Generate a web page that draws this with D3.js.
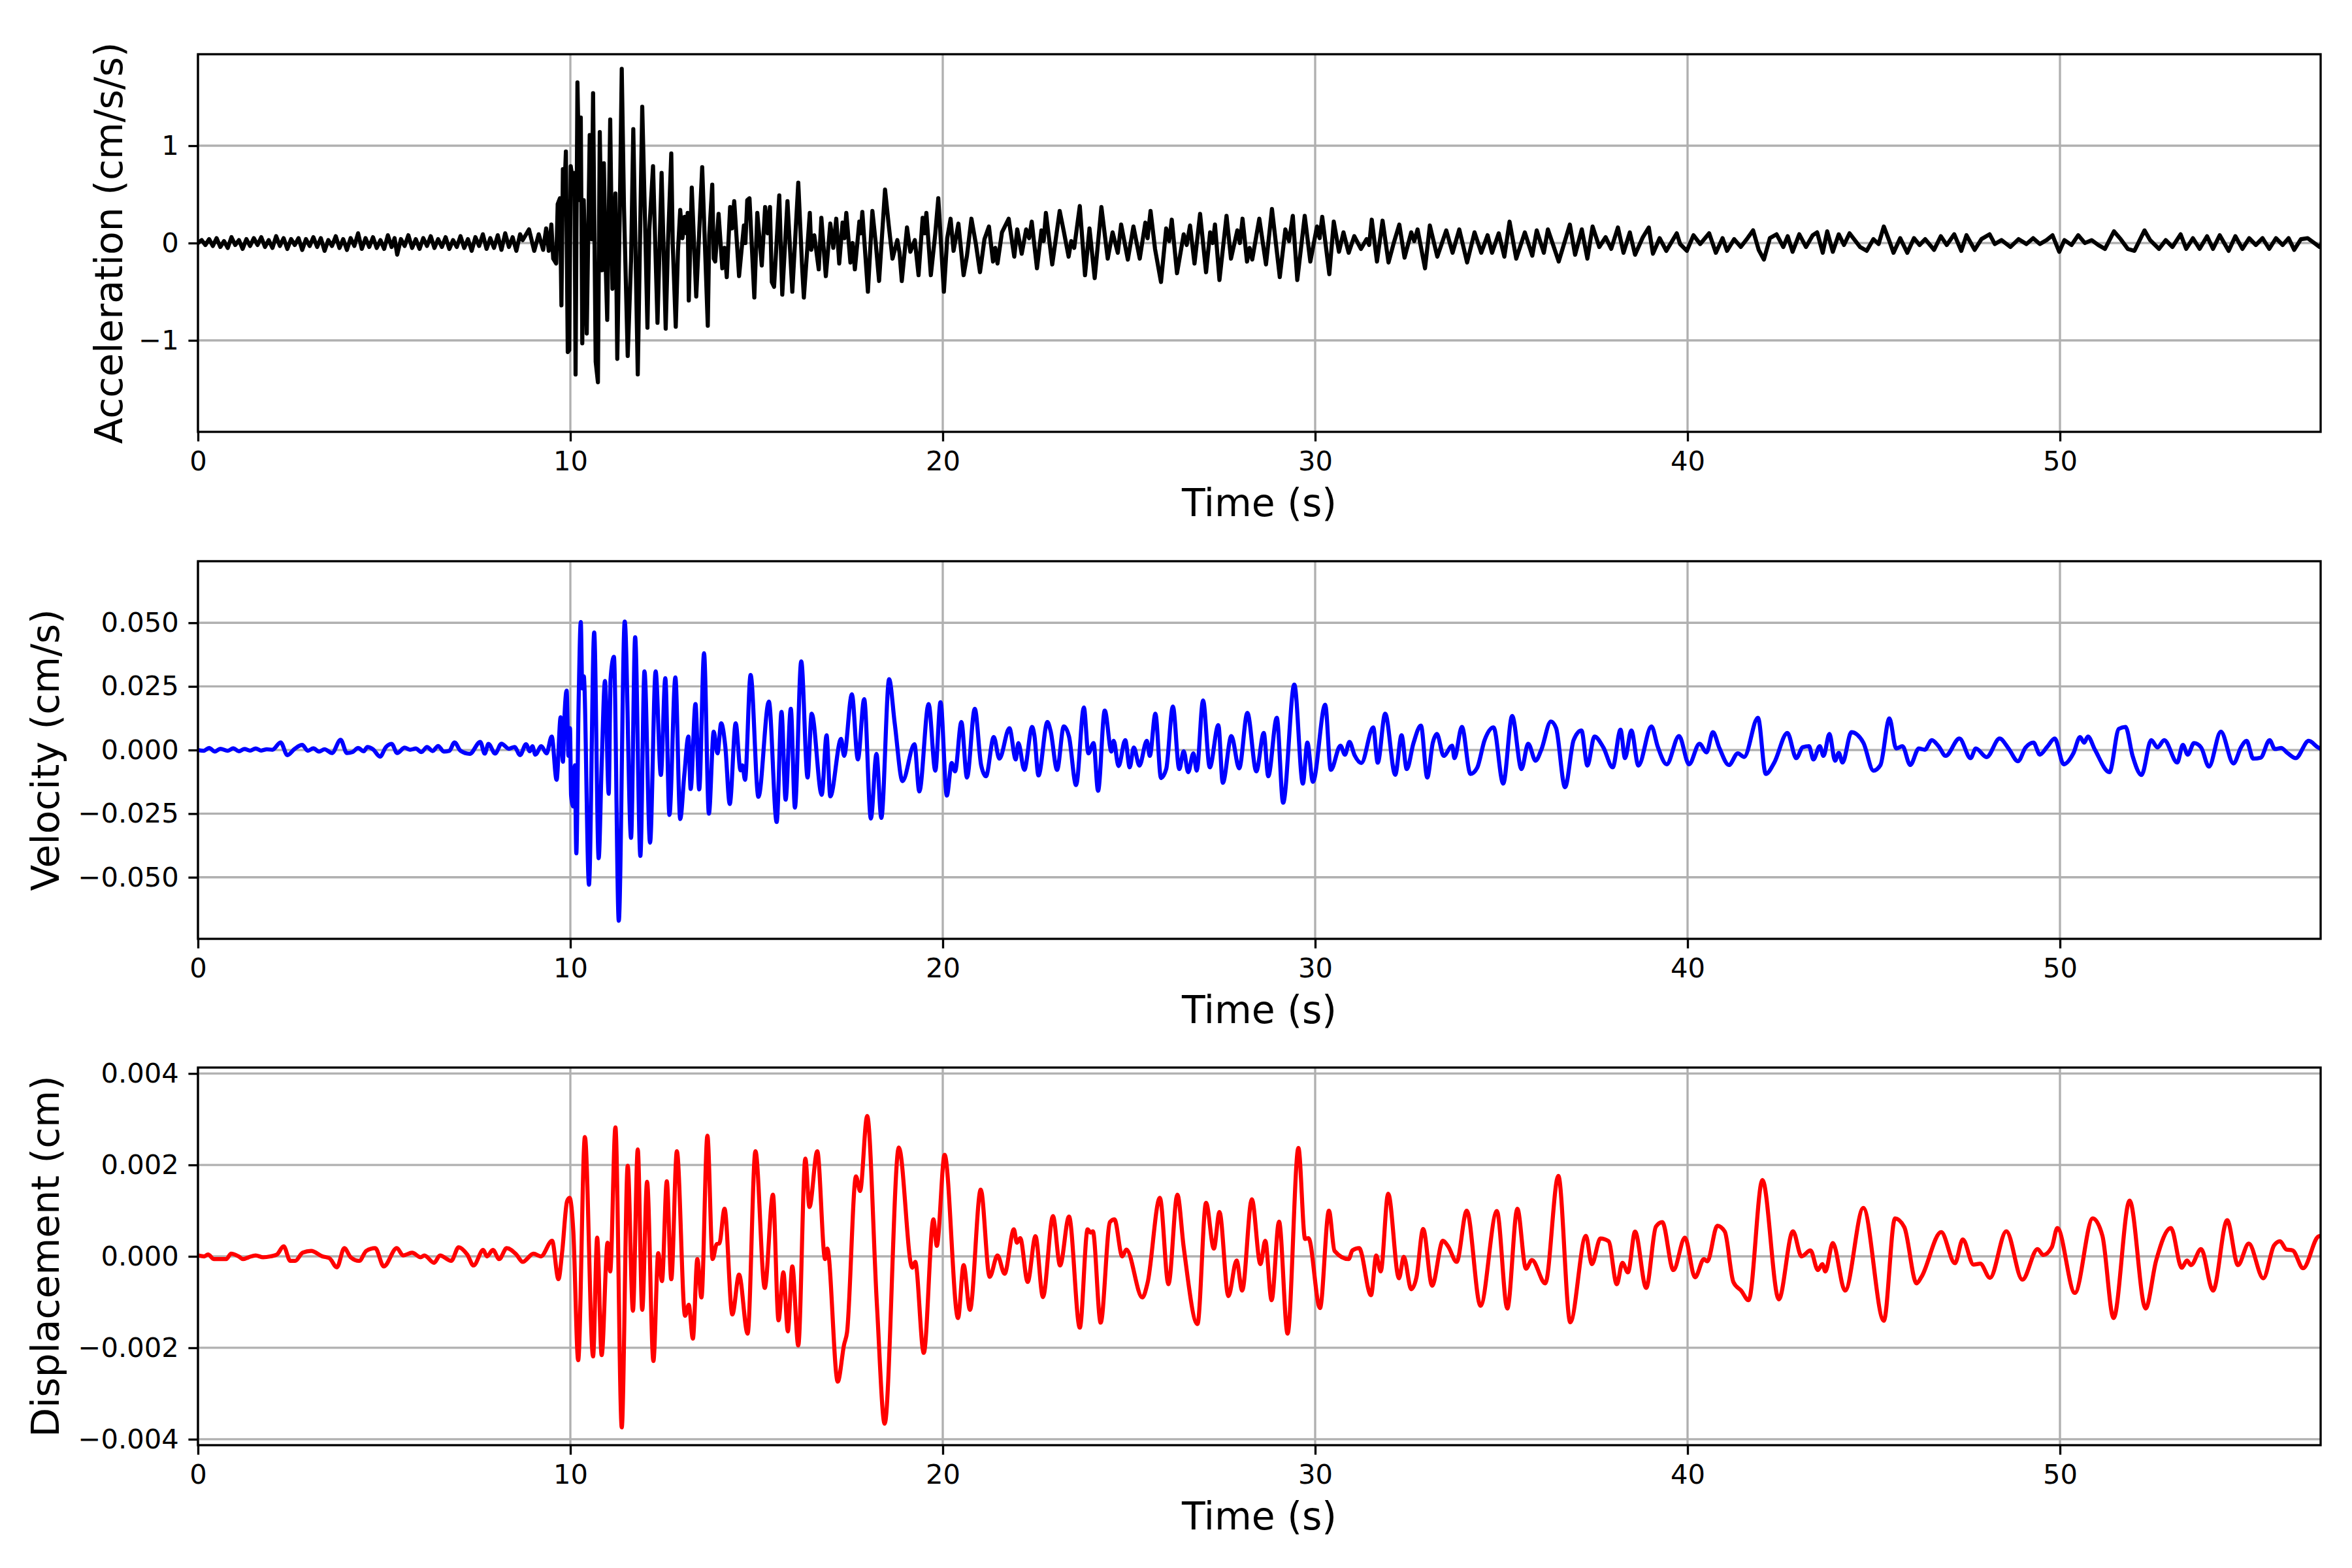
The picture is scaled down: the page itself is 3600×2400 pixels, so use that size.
<!DOCTYPE html>
<html>
<head>
<meta charset="utf-8">
<script src="https://cdn.jsdelivr.net/npm/d3@7"></script>
<style>
  body { margin: 0; background: #fff; }
</style>
</head>
<body>
<div id="output"></div>
<script>
// Tick values (same time axis for all panels)
const timeTicks = [0, 10, 20, 30, 40, 50];
const accTicks = [-1, 0, 1];
const velTicks = [-0.05, -0.025, 0, 0.025, 0.05];
const dispTicks = [-0.004, -0.002, 0, 0.002, 0.004];

// Ground motion: [time (s), value]
const accSeries = [
  [0,0],[0.1,0.03],[0.2,-0.02],[0.3,0.04],[0.4,-0.03],[0.5,0.05],[0.6,-0.04],[0.7,0.02],[0.8,-0.05],[0.9,0.06],
  [1.0,-0.02],[1.1,0.03],[1.2,-0.06],[1.3,0.04],[1.4,-0.03],[1.5,0.05],[1.6,-0.02],[1.7,0.06],[1.8,-0.04],[1.9,0.03],
  [2.0,-0.05],[2.1,0.07],[2.2,-0.03],[2.3,0.05],[2.4,-0.06],[2.5,0.04],[2.6,-0.02],[2.7,0.05],[2.8,-0.07],[2.9,0.04],
  [3.0,-0.03],[3.1,0.06],[3.2,-0.04],[3.3,0.05],[3.4,-0.08],[3.5,0.03],[3.6,-0.03],[3.7,0.07],[3.8,-0.05],[3.9,0.04],
  [4.0,-0.07],[4.1,0.05],[4.2,-0.03],[4.3,0.1],[4.4,-0.06],[4.5,0.05],[4.6,-0.04],[4.7,0.06],[4.8,-0.05],[4.9,0.03],
  [5.0,-0.06],[5.1,0.08],[5.2,-0.04],[5.28,0.05],[5.35,-0.12],[5.45,0.04],[5.55,-0.03],[5.65,0.08],[5.75,-0.05],[5.85,0.04],
  [5.95,-0.06],[6.05,0.05],[6.15,-0.03],[6.25,0.07],[6.35,-0.05],[6.45,0.04],[6.55,-0.04],[6.65,0.06],[6.75,-0.06],[6.85,0.03],
  [6.95,-0.04],[7.05,0.07],[7.15,-0.05],[7.25,0.04],[7.35,-0.08],[7.45,0.06],[7.55,-0.03],[7.65,0.09],[7.75,-0.06],[7.85,0.05],
  [7.95,-0.05],[8.05,0.08],[8.15,-0.07],[8.25,0.1],[8.35,-0.04],[8.45,0.06],[8.55,-0.08],[8.65,0.09],[8.72,0.03],[8.89,0.14],
  [9.03,-0.08],[9.15,0.09],[9.27,-0.07],[9.35,0.15],[9.42,-0.08],[9.49,0.19],[9.54,-0.16],[9.62,-0.21],[9.66,0.4],[9.72,0.46],
  [9.76,-0.64],[9.8,0.76],[9.83,0.42],[9.88,0.94],[9.93,-1.12],[9.97,-1.1],[10.01,0.79],[10.05,0.68],[10.11,0.72],[10.14,-1.35],
  [10.19,1.65],[10.25,0.44],[10.28,1.29],[10.32,-1.03],[10.36,0.44],[10.44,-0.93],[10.52,1.11],[10.57,0.04],[10.61,1.54],[10.68,-1.22],
  [10.74,-1.43],[10.79,1.14],[10.85,-0.28],[10.9,0.82],[10.95,-0.25],[10.99,-0.79],[11.07,1.27],[11.13,-0.47],[11.21,0.51],[11.26,-1.19],
  [11.33,0.39],[11.38,1.79],[11.44,0.37],[11.54,-1.16],[11.63,-0.18],[11.69,1.17],[11.81,-1.35],[11.93,1.4],[12.01,0.15],[12.07,-0.87],
  [12.12,0.13],[12.22,0.79],[12.34,-0.82],[12.45,0.72],[12.56,-0.88],[12.62,-0.02],[12.71,0.92],[12.75,-0.02],[12.83,-0.86],[12.89,-0.08],
  [12.95,0.34],[13.01,0.05],[13.07,0.27],[13.12,0.1],[13.15,0.31],[13.18,-0.59],[13.26,0.57],[13.38,-0.55],[13.54,0.78],[13.69,-0.85],
  [13.73,0.08],[13.81,0.6],[13.85,-0.16],[13.89,-0.19],[13.98,0.3],[14.08,-0.26],[14.14,-0.05],[14.2,-0.35],[14.29,0.37],[14.34,0.15],
  [14.4,0.43],[14.53,-0.34],[14.66,0.18],[14.7,0.0],[14.75,0.44],[14.81,0.46],[14.94,-0.56],[15.02,0.31],[15.14,-0.23],[15.23,0.37],
  [15.3,0.1],[15.36,0.37],[15.41,-0.4],[15.47,-0.45],[15.61,0.49],[15.69,-0.53],[15.83,0.43],[15.96,-0.5],[16.12,0.62],[16.22,-0.22],
  [16.27,-0.56],[16.43,0.31],[16.47,-0.07],[16.55,0.08],[16.67,-0.27],[16.74,0.26],[16.86,-0.34],[16.98,0.2],[17.06,-0.05],[17.14,0.25],
  [17.22,-0.21],[17.31,0.21],[17.36,0.05],[17.41,0.31],[17.52,-0.2],[17.58,0.0],[17.64,-0.27],[17.76,0.22],[17.8,0.1],[17.84,0.32],
  [17.99,-0.5],[18.11,0.33],[18.2,0.0],[18.29,-0.39],[18.45,0.55],[18.55,0.18],[18.65,-0.16],[18.78,0.03],[18.84,-0.1],[18.9,-0.39],
  [19.04,0.16],[19.13,-0.09],[19.25,0.03],[19.35,-0.33],[19.46,0.26],[19.51,0.1],[19.56,0.31],[19.68,-0.33],[19.8,0.1],[19.88,0.46],
  [20.03,-0.5],[20.12,0.05],[20.21,0.25],[20.29,-0.08],[20.42,0.2],[20.56,-0.33],[20.65,-0.13],[20.77,0.25],[20.89,-0.01],[21.0,-0.3],
  [21.12,0.04],[21.24,0.17],[21.35,-0.19],[21.41,-0.05],[21.47,-0.21],[21.59,0.11],[21.77,0.25],[21.92,-0.14],[22.0,0.14],[22.12,-0.11],
  [22.24,0.14],[22.32,0.05],[22.39,0.22],[22.53,-0.26],[22.65,0.13],[22.71,0.02],[22.77,0.31],[22.94,-0.22],[23.14,0.33],[23.25,0.12],
  [23.38,-0.14],[23.45,0.02],[23.53,-0.05],[23.68,0.38],[23.82,-0.33],[23.94,0.15],[24.08,-0.36],[24.26,0.37],[24.43,-0.16],[24.56,0.11],
  [24.7,-0.1],[24.79,0.19],[24.97,-0.17],[25.12,0.17],[25.29,-0.16],[25.44,0.21],[25.5,0.05],[25.58,0.33],[25.7,-0.06],[25.86,-0.4],
  [26.0,0.15],[26.08,0.02],[26.15,0.24],[26.29,-0.31],[26.47,0.09],[26.55,-0.02],[26.64,0.18],[26.76,-0.21],[26.91,0.3],[27.07,-0.3],
  [27.18,0.11],[27.25,0.0],[27.31,0.19],[27.43,-0.38],[27.62,0.28],[27.74,-0.16],[27.91,0.13],[27.98,0.0],[28.05,0.25],[28.17,-0.19],
  [28.24,-0.05],[28.31,-0.17],[28.5,0.25],[28.68,-0.22],[28.84,0.35],[29.05,-0.35],[29.2,0.14],[29.3,0.02],[29.4,0.28],[29.52,-0.38],
  [29.72,0.28],[29.87,-0.19],[30.05,0.17],[30.12,0.05],[30.19,0.27],[30.38,-0.32],[30.5,0.22],[30.64,-0.09],[30.76,0.11],[30.9,-0.1],
  [31.05,0.07],[31.23,-0.06],[31.38,0.04],[31.45,-0.02],[31.52,0.24],[31.66,-0.19],[31.81,0.23],[31.97,-0.2],[32.11,0.0],[32.26,0.19],
  [32.4,-0.15],[32.58,0.11],[32.66,0.02],[32.75,0.14],[32.95,-0.26],[33.08,0.18],[33.28,-0.14],[33.52,0.13],[33.69,-0.1],[33.87,0.14],
  [34.08,-0.2],[34.28,0.11],[34.46,-0.1],[34.63,0.08],[34.75,-0.1],[34.93,0.1],[35.08,-0.14],[35.22,0.22],[35.4,-0.16],[35.63,0.11],
  [35.83,-0.13],[35.95,0.13],[36.14,-0.1],[36.25,0.14],[36.54,-0.19],[36.84,0.19],[36.98,-0.12],[37.16,0.14],[37.31,-0.16],[37.45,0.17],
  [37.63,-0.04],[37.8,0.06],[37.95,-0.06],[38.13,0.16],[38.28,-0.1],[38.45,0.11],[38.59,-0.12],[38.8,0.06],[38.96,0.16],[39.07,-0.11],
  [39.25,0.05],[39.43,-0.08],[39.71,0.1],[39.8,-0.01],[39.98,-0.08],[40.16,0.08],[40.34,-0.01],[40.58,0.1],[40.76,-0.1],[40.94,0.05],
  [41.06,-0.08],[41.25,0.04],[41.43,-0.04],[41.61,0.05],[41.76,0.13],[41.91,-0.07],[42.05,-0.17],[42.21,0.05],[42.39,0.09],[42.57,-0.04],
  [42.69,0.07],[42.82,-0.09],[43.0,0.09],[43.18,-0.04],[43.36,0.08],[43.48,0.11],[43.63,-0.1],[43.75,0.12],[43.9,-0.09],[44.06,0.09],
  [44.2,-0.02],[44.35,0.1],[44.63,-0.04],[44.81,-0.08],[44.99,0.04],[45.13,-0.01],[45.27,0.17],[45.41,0.03],[45.53,-0.1],[45.71,0.05],
  [45.9,-0.1],[46.08,0.05],[46.23,-0.02],[46.38,0.04],[46.62,-0.07],[46.8,0.07],[46.96,-0.02],[47.16,0.09],[47.35,-0.08],[47.49,0.08],
  [47.71,-0.07],[47.89,0.04],[48.11,0.09],[48.25,-0.01],[48.43,0.03],[48.67,-0.04],[48.89,0.04],[49.1,-0.01],[49.28,0.05],[49.46,-0.01],
  [49.64,0.03],[49.8,0.08],[49.98,-0.09],[50.12,0.03],[50.31,-0.02],[50.49,0.08],[50.67,0.0],[50.85,0.03],[51.03,-0.02],[51.21,-0.06],
  [51.45,0.12],[51.63,0.04],[51.82,-0.06],[52.0,-0.08],[52.27,0.13],[52.42,0.03],[52.66,-0.06],[52.84,0.03],[53.02,-0.04],[53.24,0.09],
  [53.39,-0.06],[53.57,0.05],[53.75,-0.06],[53.95,0.07],[54.11,-0.06],[54.29,0.08],[54.53,-0.08],[54.71,0.07],[54.9,-0.06],[55.08,0.05],
  [55.26,-0.02],[55.44,0.05],[55.62,-0.06],[55.8,0.05],[55.98,-0.02],[56.14,0.05],[56.29,-0.07],[56.47,0.04],[56.65,0.05],[56.83,0.0],
  [56.97,-0.04],[57.0,-0.02]
];

const velSeries = [
  [0,0],[0.15,-0.0003],[0.3,0.0008],[0.45,-0.0006],[0.6,0.0005],[0.8,-0.0003],[0.95,0.0007],[1.1,-0.0005],[1.25,0.0004],[1.4,-0.0002],
  [1.55,0.0006],[1.7,-0.0002],[1.85,0.0003],[2.0,0.0001],[2.22,0.003],[2.4,-0.002],[2.6,0.0005],[2.8,0.002],[2.95,-0.0003],[3.1,0.0007],
  [3.25,-0.0006],[3.4,0.0003],[3.6,-0.0012],[3.83,0.004],[4.0,-0.0012],[4.15,-0.0008],[4.3,0.0008],[4.45,-0.0005],[4.55,0.0012],[4.7,0.0003],
  [4.89,-0.0026],[5.05,0.0012],[5.2,0.0024],[5.35,-0.0012],[5.55,0.0009],[5.7,0.0001],[5.85,0.0006],[6.0,-0.0008],[6.15,0.0012],[6.3,-0.0004],
  [6.45,0.0016],[6.6,-0.0006],[6.75,-0.0003],[6.89,0.003],[7.05,-0.0003],[7.3,-0.0015],[7.58,0.0032],[7.7,-0.0014],[7.8,0.0024],[7.98,-0.0014],
  [8.15,0.0025],[8.35,0.0005],[8.5,0.0012],[8.65,-0.002],[8.81,0.0023],[8.91,-0.0005],[8.98,0.0015],[9.06,-0.0018],[9.22,0.0015],[9.36,-0.0013],
  [9.5,0.0053],[9.63,-0.0117],[9.74,0.0129],[9.8,-0.0046],[9.84,0.0124],[9.9,0.0233],[9.95,-0.0023],[9.99,0.0086],[10.02,-0.0179],[10.08,-0.0222],
  [10.12,-0.006],[10.16,-0.0406],[10.22,0.0171],[10.28,0.0503],[10.32,0.0242],[10.36,0.029],[10.5,-0.0529],[10.64,0.0462],[10.76,-0.0425],[10.84,-0.0061],
  [10.93,0.0271],[11.03,-0.0172],[11.08,0.028],[11.17,0.0366],[11.3,-0.0671],[11.46,0.0505],[11.63,-0.0345],[11.74,0.0443],[11.88,-0.0416],[11.99,0.0309],
  [12.14,-0.0364],[12.29,0.0309],[12.43,-0.0098],[12.55,0.0282],[12.66,-0.0255],[12.82,0.0285],[12.95,-0.0271],[13.06,-0.0098],[13.17,0.0053],[13.23,-0.0153],
  [13.36,0.0181],[13.46,-0.0155],[13.59,0.038],[13.72,-0.025],[13.85,0.0072],[13.95,-0.0013],[14.05,0.0105],[14.16,0.0015],[14.28,-0.0212],[14.44,0.0105],
  [14.57,-0.008],[14.62,-0.006],[14.69,-0.0117],[14.84,0.0295],[15.05,-0.0184],[15.33,0.019],[15.54,-0.0283],[15.67,0.015],[15.78,-0.0195],[15.92,0.0162],
  [16.03,-0.0226],[16.2,0.0348],[16.37,-0.0108],[16.48,0.0143],[16.75,-0.0176],[16.88,0.0058],[16.98,-0.0182],[17.27,0.0044],[17.35,-0.0023],[17.56,0.0219],
  [17.72,-0.0037],[17.89,0.02],[18.07,-0.0269],[18.22,-0.0015],[18.35,-0.0267],[18.56,0.0278],[18.71,0.0105],[18.92,-0.0122],[19.24,0.0023],[19.37,-0.0163],
  [19.62,0.0181],[19.8,-0.0081],[19.94,0.0188],[20.11,-0.0179],[20.24,-0.0051],[20.33,-0.0084],[20.5,0.011],[20.65,-0.0108],[20.86,0.0162],[21.03,-0.0059],
  [21.16,-0.0103],[21.37,0.0051],[21.52,-0.0034],[21.79,0.0086],[21.96,-0.0037],[22.03,0.0027],[22.19,-0.0078],[22.4,0.0091],[22.46,0.0058],[22.57,-0.01],
  [22.81,0.011],[22.9,0.0072],[23.07,-0.0078],[23.25,0.0093],[23.39,0.0053],[23.58,-0.0138],[23.79,0.0167],[23.91,-0.0013],[24.05,0.0027],[24.17,-0.016],
  [24.35,0.0155],[24.53,-0.0006],[24.59,0.0036],[24.72,-0.0063],[24.9,0.0039],[25.02,-0.0068],[25.13,0.001],[25.28,-0.0061],[25.48,0.0036],[25.56,-0.0023],
  [25.71,0.0143],[25.86,-0.011],[26.0,-0.0075],[26.18,0.0171],[26.35,-0.0075],[26.47,-0.0005],[26.59,-0.0087],[26.73,-0.0013],[26.82,-0.0081],[26.99,0.0195],
  [27.17,-0.0068],[27.4,0.0098],[27.52,-0.0129],[27.75,0.0055],[27.96,-0.0072],[28.18,0.0146],[28.42,-0.0084],[28.62,0.0067],[28.74,-0.0103],[28.97,0.0127],
  [29.14,-0.0207],[29.44,0.0257],[29.67,-0.0132],[29.79,0.0029],[29.94,-0.0125],[30.27,0.0178],[30.42,-0.0078],[30.68,0.0017],[30.8,-0.0018],[30.92,0.0032],
  [31.06,-0.0021],[31.24,-0.0051],[31.56,0.0089],[31.68,-0.005],[31.88,0.0143],[32.15,-0.0097],[32.32,0.0058],[32.46,-0.0075],[32.64,0.0027],[32.84,0.0096],
  [33.01,-0.0108],[33.16,0.0029],[33.27,0.0063],[33.45,-0.0023],[33.68,0.0017],[33.74,-0.0032],[33.94,0.0091],[34.17,-0.0094],[34.35,-0.007],[34.55,0.0039],
  [34.79,0.0089],[35.05,-0.0132],[35.29,0.0134],[35.54,-0.0075],[35.72,0.0025],[35.92,-0.0042],[36.07,0.0],[36.33,0.0112],[36.47,0.0086],[36.71,-0.0146],
  [36.94,0.0039],[37.15,0.0077],[37.31,-0.0061],[37.5,0.0053],[37.74,0.001],[37.99,-0.0068],[38.2,0.008],[38.32,-0.0032],[38.49,0.0077],[38.68,-0.0061],
  [39.03,0.0093],[39.2,0.0013],[39.44,-0.0056],[39.77,0.0055],[40.04,-0.0056],[40.32,0.0025],[40.51,-0.0009],[40.68,0.007],[40.86,0.0006],[41.11,-0.0059],
  [41.35,-0.0013],[41.52,-0.0027],[41.89,0.0127],[42.1,-0.0094],[42.33,-0.0049],[42.68,0.0067],[42.92,-0.0032],[43.09,0.0011],[43.26,0.0015],[43.38,-0.0037],
  [43.55,0.0015],[43.65,-0.0023],[43.81,0.0063],[43.96,-0.0042],[44.06,-0.0011],[44.16,-0.0049],[44.4,0.007],[44.72,0.0029],[44.99,-0.0081],[45.18,-0.0059],
  [45.42,0.0124],[45.6,0.0006],[45.77,0.0015],[45.98,-0.0059],[46.21,0.0006],[46.37,0.0001],[46.56,0.0039],[46.74,0.0015],[46.93,-0.0023],[47.3,0.0045],
  [47.6,-0.0032],[47.74,0.0006],[48.03,-0.0028],[48.38,0.0045],[48.62,0.0006],[48.87,-0.0044],[49.08,0.001],[49.29,0.0029],[49.46,-0.0018],[49.66,0.0013],
  [49.86,0.0045],[50.1,-0.0056],[50.36,-0.0013],[50.54,0.0051],[50.65,0.0029],[50.75,0.0053],[50.94,0.0001],[51.33,-0.0087],[51.58,0.0083],[51.76,0.0091],
  [51.95,-0.0023],[52.19,-0.0098],[52.45,0.0039],[52.62,0.001],[52.8,0.0039],[53.15,-0.0049],[53.3,0.002],[53.43,-0.0018],[53.6,0.0027],[53.79,0.001],
  [54.0,-0.0065],[54.32,0.0072],[54.66,-0.0053],[54.86,0.001],[55.01,0.0036],[55.19,-0.0034],[55.39,-0.003],[55.63,0.0039],[55.77,0.0004],[55.94,0.0008],
  [56.12,-0.0013],[56.33,-0.0032],[56.68,0.0036],[56.93,0.001],[57.0,0.0005]
];

const dispSeries = [
  [0,0.00002],[0.17,0.0],[0.27,0.00004],[0.43,-0.00006],[0.76,-0.00006],[0.89,0.00006],[1.09,0.0],[1.21,-0.00006],[1.36,-0.00002],[1.55,0.00002],
  [1.75,-0.00002],[1.95,0.0],[2.12,0.00004],[2.3,0.00022],[2.48,-0.0001],[2.61,-0.0001],[2.81,0.00008],[3.04,0.00012],[3.34,0.0],[3.53,-0.00004],
  [3.73,-0.00024],[3.93,0.00018],[4.1,-0.00002],[4.33,-0.0001],[4.52,0.00012],[4.76,0.00018],[4.99,-0.00022],[5.34,0.00018],[5.51,0.00002],[5.75,0.00008],
  [5.98,-0.00002],[6.08,0.00002],[6.34,-0.00014],[6.5,0.00002],[6.8,-0.0001],[7.0,0.0002],[7.23,0.00004],[7.4,-0.0002],[7.66,0.00014],[7.76,0.0],
  [7.92,0.00014],[8.09,-0.00006],[8.29,0.00018],[8.55,0.00004],[8.72,-0.00012],[9.01,0.00006],[9.21,0.0],[9.51,0.00034],[9.68,-0.0005],[9.78,0.0001],
  [9.91,0.0012],[9.98,0.00128],[10.08,0.00054],[10.21,-0.00227],[10.39,0.00261],[10.61,-0.00219],[10.72,0.00041],[10.84,-0.00216],[11.0,0.0003],[11.07,-0.00033],
  [11.21,0.00282],[11.38,-0.00374],[11.54,0.00198],[11.68,-0.00119],[11.81,0.00234],[11.93,-0.00117],[12.06,0.00163],[12.23,-0.00229],[12.36,0.00007],[12.46,-0.00054],
  [12.59,0.00164],[12.71,-0.0005],[12.86,0.0023],[13.08,-0.0013],[13.18,-0.00106],[13.29,-0.0018],[13.41,-0.00006],[13.52,-0.0009],[13.68,0.00264],[13.82,-0.00006],
  [13.93,0.00027],[14.0,0.00028],[14.14,0.00104],[14.35,-0.00127],[14.53,-0.0004],[14.76,-0.00169],[14.97,0.0023],[15.22,-0.00069],[15.44,0.00135],[15.59,-0.0014],
  [15.72,-0.00035],[15.84,-0.00164],[15.96,-0.00022],[16.12,-0.00195],[16.31,0.00214],[16.42,0.00108],[16.63,0.0023],[16.84,-0.00006],[16.9,0.00017],[17.18,-0.00274],
  [17.35,-0.00193],[17.43,-0.00166],[17.67,0.00175],[17.78,0.00143],[17.97,0.00307],[18.23,-0.00103],[18.44,-0.00366],[18.82,0.00238],[19.18,-0.00025],[19.26,-0.00012],
  [19.49,-0.00211],[19.75,0.00081],[19.84,0.00023],[20.05,0.00222],[20.41,-0.00135],[20.56,-0.00019],[20.73,-0.00117],[21.02,0.00146],[21.26,-0.00045],[21.47,0.00002],
  [21.66,-0.00038],[21.91,0.00059],[21.99,0.0003],[22.08,0.0004],[22.28,-0.00056],[22.49,0.00044],[22.69,-0.00089],[22.96,0.00088],[23.15,-0.0002],[23.39,0.00087],
  [23.68,-0.00156],[23.89,0.00059],[23.97,0.00052],[24.03,0.00055],[24.24,-0.00145],[24.49,0.00075],[24.61,0.00081],[24.82,0.0],[24.93,0.00015],[25.36,-0.0009],
  [25.5,-0.00058],[25.83,0.00128],[26.06,-0.00061],[26.3,0.00135],[26.47,0.0002],[26.84,-0.00148],[27.07,0.00117],[27.28,0.00017],[27.43,0.00097],[27.67,-0.00087],
  [27.89,-0.00009],[28.04,-0.00075],[28.3,0.00125],[28.53,-0.00017],[28.66,0.00034],[28.83,-0.00096],[29.03,0.00076],[29.26,-0.00169],[29.55,0.00237],[29.73,0.00038],
  [29.82,0.0004],[30.13,-0.00113],[30.37,0.001],[30.52,0.00012],[30.9,-0.00006],[31.0,0.00013],[31.18,0.00018],[31.5,-0.00085],[31.64,0.00002],[31.76,-0.00033],
  [31.96,0.00137],[32.25,-0.00048],[32.38,-0.00001],[32.58,-0.00072],[32.72,-0.00046],[32.9,0.0006],[33.14,-0.00064],[33.43,0.00034],[33.57,0.00022],[33.8,-0.00012],
  [34.07,0.001],[34.44,-0.00108],[34.88,0.00099],[35.16,-0.00114],[35.43,0.00104],[35.66,-0.00027],[35.82,-0.00008],[36.18,-0.00059],[36.53,0.00176],[36.85,-0.00144],
  [37.27,0.00045],[37.43,-0.00017],[37.66,0.00039],[37.88,0.00033],[38.1,-0.00061],[38.25,-0.00014],[38.4,-0.00035],[38.59,0.00054],[38.89,-0.00069],[39.15,0.00065],
  [39.32,0.00075],[39.62,-0.0003],[39.93,0.00041],[40.2,-0.00046],[40.44,-0.00006],[40.53,-0.00011],[40.8,0.00067],[41.0,0.00054],[41.23,-0.00056],[41.44,-0.00075],
  [41.64,-0.00096],[42.01,0.00167],[42.45,-0.00094],[42.83,0.00055],[43.06,0.0],[43.3,0.00013],[43.5,-0.0003],[43.62,-0.00017],[43.7,-0.00033],[43.9,0.00029],
  [44.23,-0.00075],[44.72,0.00106],[45.27,-0.00141],[45.57,0.00083],[45.82,0.00064],[46.15,-0.00059],[46.28,-0.00045],[46.81,0.00053],[47.18,-0.00015],[47.39,0.00037],
  [47.68,-0.00018],[47.86,-0.00016],[48.12,-0.00047],[48.56,0.00055],[48.99,-0.00051],[49.4,0.00016],[49.55,0.00003],[49.78,0.0002],[49.93,0.00062],[50.4,-0.0008],
  [50.88,0.00083],[51.14,0.00045],[51.44,-0.00135],[51.87,0.00122],[52.3,-0.00114],[52.58,-0.0001],[52.98,0.00062],[53.27,-0.00025],[53.41,-0.00009],[53.52,-0.00019],
  [53.79,0.00016],[54.11,-0.00075],[54.49,0.00079],[54.78,-0.00019],[55.07,0.00028],[55.46,-0.00048],[55.75,0.00024],[55.91,0.00033],[56.08,0.00015],[56.25,0.00013],
  [56.53,-0.00026],[56.93,0.00043],[57.0,0.00045]
];

function PlotRecord(parent_element = "output") {
  const width = 3600, height = 2400;
  // axes box (pixels), same x extent for every panel
  const left = 303, right = 3552, panelHeight = 578;
  const tickLen = 14.6, tickPad = 14.6, thin = 3.33;

  const svg = d3.select("#" + parent_element).append("svg")
    .attr("width", width)
    .attr("height", height)
    .style("background", "#fff")
    .style("font-family", "'DejaVu Sans', sans-serif");

  const x = d3.scaleLinear().domain([0, 57]).range([left, right]);

  const panels = [
    {data: accSeries, ticks: accTicks, lim: 1.94, fmt: d3.format("d"), color: "#000000",
     label: "Acceleration (cm/s/s)", labelX: 187, top: 83, curve: d3.curveLinear},
    {data: velSeries, ticks: velTicks, lim: 0.0742, fmt: d3.format(".3f"), color: "#0000ff",
     label: "Velocity (cm/s)", labelX: 90, top: 859, curve: d3.curveMonotoneX},
    {data: dispSeries, ticks: dispTicks, lim: 0.00413, fmt: d3.format(".3f"), color: "#ff0000",
     label: "Displacement (cm)", labelX: 90, top: 1634, curve: d3.curveMonotoneX}
  ];

  panels.forEach((p, i) => {
    const bottom = p.top + panelHeight;
    const y = d3.scaleLinear().domain([-p.lim, p.lim]).range([bottom, p.top]);
    const g = svg.append("g");

    // clip so nothing spills outside the axes box
    g.append("clipPath").attr("id", "clip" + i)
      .append("rect")
      .attr("x", left).attr("y", p.top)
      .attr("width", right - left).attr("height", panelHeight);

    // Grid lines
    g.append("g").selectAll("line").data(timeTicks).enter().append("line")
      .attr("x1", d => x(d)).attr("x2", d => x(d))
      .attr("y1", p.top).attr("y2", bottom)
      .attr("stroke", "#b0b0b0").attr("stroke-width", thin);
    g.append("g").selectAll("line").data(p.ticks).enter().append("line")
      .attr("x1", left).attr("x2", right)
      .attr("y1", d => y(d)).attr("y2", d => y(d))
      .attr("stroke", "#b0b0b0").attr("stroke-width", thin);

    // The trace
    const line = d3.line()
      .x(d => x(d[0]))
      .y(d => y(d[1]))
      .curve(p.curve);
    g.append("path")
      .datum(p.data)
      .attr("clip-path", `url(#clip${i})`)
      .attr("d", line)
      .attr("fill", "none")
      .attr("stroke", p.color)
      .attr("stroke-width", 6.25)
      .attr("stroke-linejoin", "round")
      .attr("stroke-linecap", "square");

    // Frame
    g.append("rect")
      .attr("x", left).attr("y", p.top)
      .attr("width", right - left).attr("height", panelHeight)
      .attr("fill", "none").attr("stroke", "#000").attr("stroke-width", thin);

    // X axis
    const xAxis = g.append("g")
      .attr("transform", `translate(0,${bottom})`)
      .call(d3.axisBottom(x).tickValues(timeTicks).tickSizeOuter(0)
        .tickSize(tickLen).tickPadding(tickPad).tickFormat(d3.format("d")));
    // Y axis
    const yAxis = g.append("g")
      .attr("transform", `translate(${left},0)`)
      .call(d3.axisLeft(y).tickValues(p.ticks).tickSizeOuter(0)
        .tickSize(tickLen).tickPadding(tickPad).tickFormat(p.fmt));

    [xAxis, yAxis].forEach(a => {
      a.attr("font-family", "'DejaVu Sans', sans-serif").attr("font-size", 41.7);
      a.select(".domain").remove();
      a.selectAll(".tick line").attr("stroke", "#000").attr("stroke-width", thin);
      a.selectAll(".tick text").attr("fill", "#000");
    });

    // X axis label
    g.append("text")
      .attr("x", (left + right) / 2)
      .attr("y", bottom + 129)
      .attr("text-anchor", "middle")
      .style("font-size", "58.3px")
      .text("Time (s)");

    // Y axis label
    g.append("text")
      .attr("transform", `translate(${p.labelX},${p.top + panelHeight / 2}) rotate(-90)`)
      .attr("text-anchor", "middle")
      .style("font-size", "58.3px")
      .text(p.label);
  });
}

document.addEventListener('DOMContentLoaded', (event) => {
  PlotRecord();
});
</script>
</body>
</html>
